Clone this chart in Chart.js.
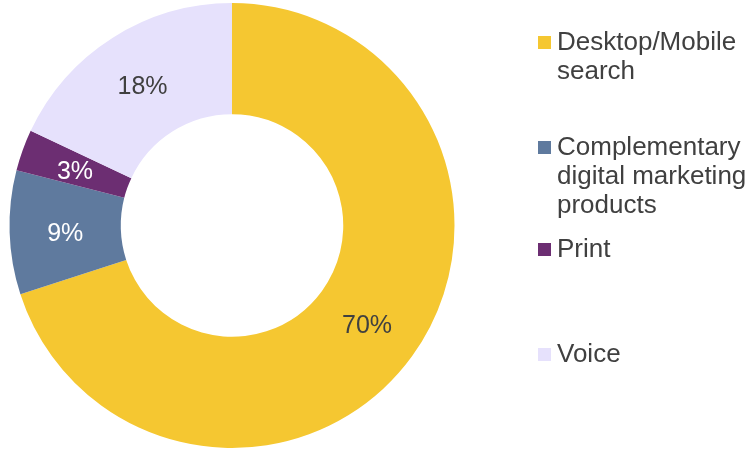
<!DOCTYPE html>
<html>
<head>
<meta charset="utf-8">
<script src="https://cdn.jsdelivr.net/npm/chart.js@4"></script>
<style>
  html, body { margin: 0; padding: 0; background: #fff; }
  #wrap { width: 756px; height: 451px; position: relative; }
</style>
</head>
<body>
<div id="wrap"><canvas id="chart"></canvas></div>
<script>
const categories = [
  ['Desktop/Mobile', 'search'],
  ['Complementary', 'digital marketing', 'products'],
  ['Print'],
  ['Voice']
];
const shares = [70, 9, 3, 18];
const colors = ['#F5C731', '#5F7A9E', '#6C2E72', '#E6E1FC'];
const labelColors = ['#404040', '#ffffff', '#ffffff', '#404040'];
const legendTops = [43, 148, 250, 355];

const FONT = '"Liberation Sans", Arial, sans-serif';

const sliceLabels = {
  id: 'sliceLabels',
  afterDatasetsDraw(chart) {
    const ctx = chart.ctx;
    const meta = chart.getDatasetMeta(0);
    ctx.save();
    ctx.font = '25px ' + FONT;
    ctx.textAlign = 'center';
    ctx.textBaseline = 'middle';
    meta.data.forEach((arc, i) => {
      const p = arc.tooltipPosition();
      ctx.fillStyle = labelColors[i];
      ctx.fillText(shares[i] + '%', p.x, p.y + 3);
    });
    ctx.restore();
  }
};

const sideLegend = {
  id: 'sideLegend',
  afterDraw(chart) {
    const ctx = chart.ctx;
    ctx.save();
    ctx.font = '26px ' + FONT;
    ctx.textBaseline = 'middle';
    categories.forEach((lines, i) => {
      const y0 = legendTops[i];
      ctx.fillStyle = colors[i];
      ctx.fillRect(538, y0 - 7, 13, 13);
      ctx.fillStyle = '#404040';
      lines.forEach((t, j) => ctx.fillText(t, 557, y0 + j * 29));
    });
    ctx.restore();
  }
};

new Chart(document.getElementById('chart'), {
  type: 'doughnut',
  data: {
    labels: categories.map(c => c.join(' ')),
    datasets: [{
      data: shares,
      backgroundColor: colors,
      borderWidth: 0,
      hoverOffset: 0
    }]
  },
  options: {
    responsive: true,
    maintainAspectRatio: false,
    animation: false,
    cutout: '50%',
    layout: { padding: { left: 0, right: 292, top: 3, bottom: 3 } },
    plugins: {
      legend: { display: false },
      tooltip: { enabled: false }
    }
  },
  plugins: [sliceLabels, sideLegend]
});
</script>
</body>
</html>
